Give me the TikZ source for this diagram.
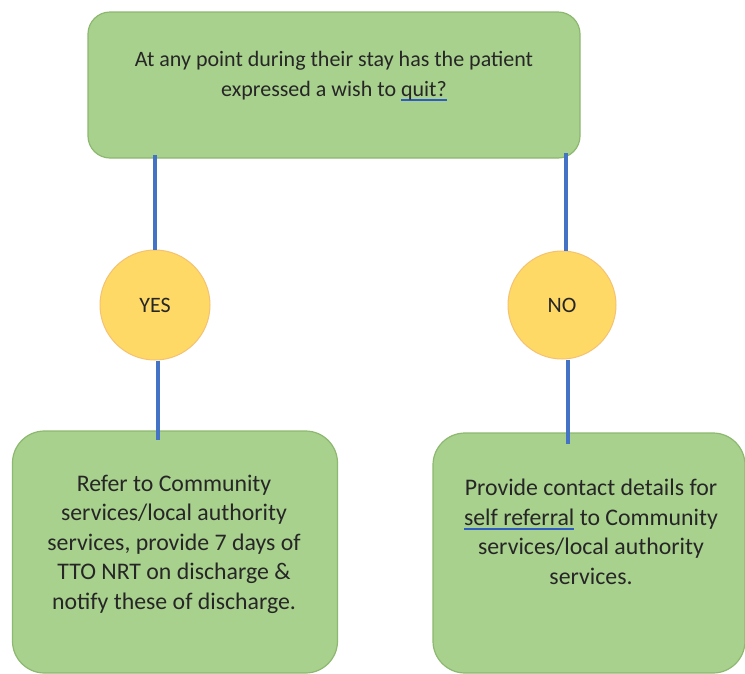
\documentclass[tikz,border=0pt]{standalone}
\usepackage{fontspec}
\setmainfont{Carlito}
\definecolor{boxfill}{HTML}{A9D18E}
\definecolor{boxdraw}{HTML}{8DB870}
\definecolor{circfill}{HTML}{FFD966}
\definecolor{circdraw}{HTML}{F4C270}
\definecolor{linkblue}{HTML}{4472C4}
\definecolor{ulblue}{HTML}{2F5BC4}
\newsavebox\ulbox
\newcommand{\blueul}[1]{\sbox\ulbox{#1}\rlap{\color{ulblue}\rule[-4.5pt]{\wd\ulbox}{1.6pt}}\usebox\ulbox}
\tikzset{
  greenbox/.style={draw=boxdraw, fill=boxfill, line width=1.2pt, rounded corners=#1, inner sep=0pt},
  yellowcirc/.style={circle, draw=circdraw, fill=circfill, line width=1pt, inner sep=0pt},
  txt/.style={align=center, font=\fontsize{22}{29.5}\selectfont, text=black!85},
  bigtxt/.style={align=center, font=\fontsize{23.8}{29.5}\selectfont, text=black!85},
  link/.style={draw=linkblue, line width=3.1pt},
}
\begin{document}
\begin{tikzpicture}[x=1pt,y=-1pt]
\useasboundingbox (0,0) rectangle (745,673);
% boxes
\node[greenbox=22pt, minimum width=492pt, minimum height=146pt] (top) at (334,85) {};
\node[greenbox=32pt, minimum width=325pt, minimum height=242pt] (lbox) at (175,552) {};
\node[greenbox=32pt, minimum width=312pt, minimum height=240pt] (rbox) at (589,553) {};
% circles
\node[yellowcirc, minimum size=110pt] (yes) at (155,305) {};
\node[yellowcirc, minimum size=108pt] (no) at (562,305) {};
% connectors
\coordinate (t1) at (155,155);
\coordinate (t2) at (566,153);
\coordinate (l1) at (158,440);
\coordinate (r1) at (568,444);
\draw[link] (t1) -- (t1 |- yes.north);
\draw[link] (t2) -- (t2 |- no.north);
\draw[link] (l1 |- yes.south) -- (l1);
\draw[link] (r1 |- no.south) -- (r1);
% texts
\node[txt] (ttop) at (334,76) {At any point during their stay has the patient\\expressed a wish to \blueul{quit?}};
\node[txt] (tyes) at (yes) {YES};
\node[txt] (tno) at (no) {NO};
\node[bigtxt] (tl) at (174,544) {Refer to Community\\services/local authority\\services, provide 7 days of\\TTO NRT on discharge \&\\notify these of discharge.};
\node[bigtxt] (tr) at (591,532) {Provide contact details for\\\blueul{self referral} to Community\\services/local authority\\services.};
\end{tikzpicture}
\end{document}
